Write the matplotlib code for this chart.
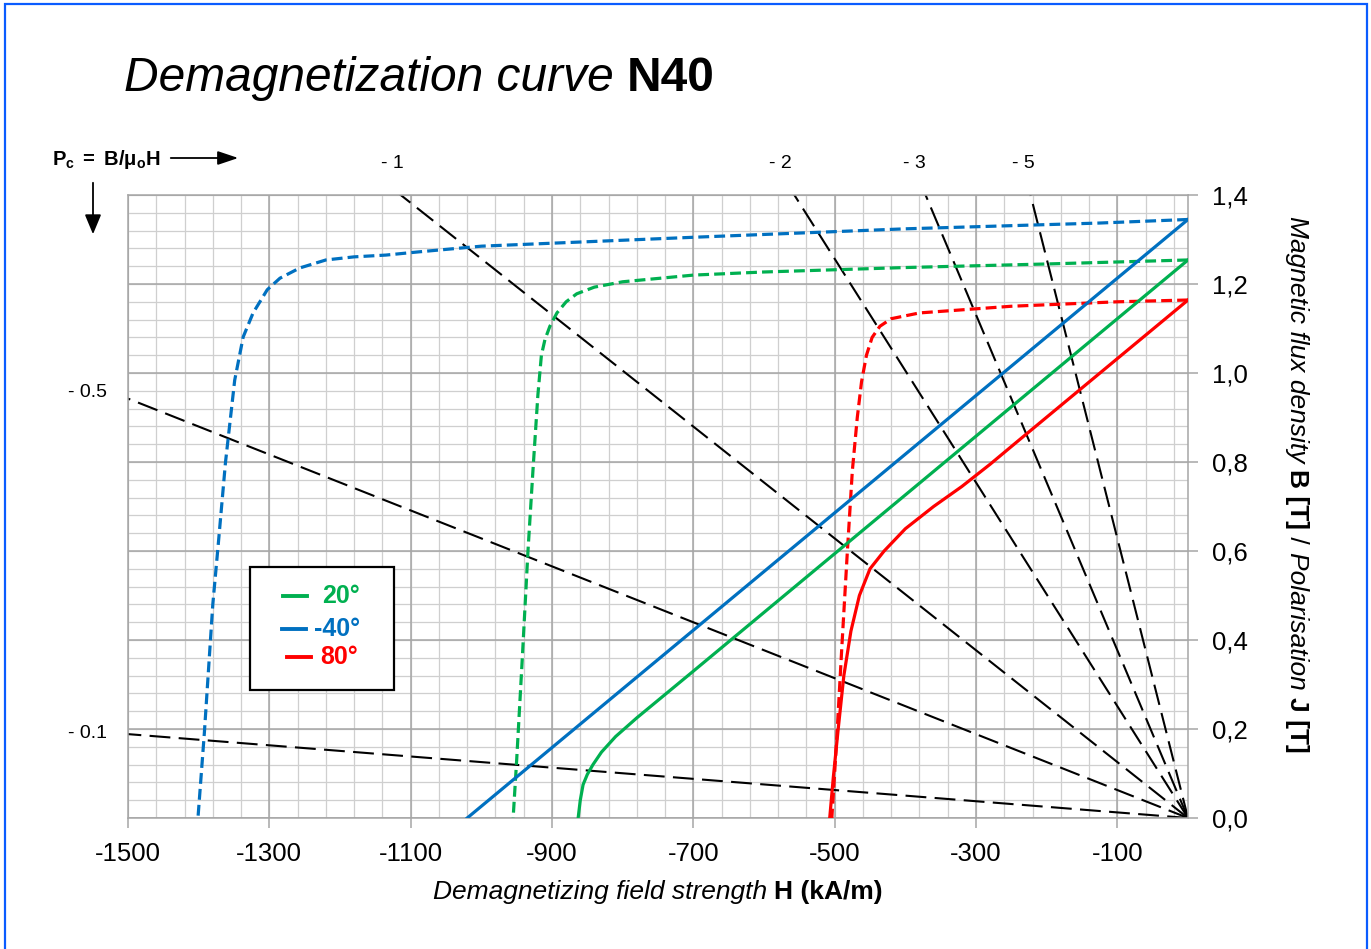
import numpy as np
import matplotlib
matplotlib.use("Agg")
import matplotlib.pyplot as plt
from matplotlib.patches import Rectangle, FancyArrowPatch
from matplotlib.lines import Line2D
from matplotlib.ticker import FixedLocator, FuncFormatter

plt.rcParams['font.family'] = ['Liberation Sans', 'DejaVu Sans']
plt.rcParams['mathtext.fontset'] = 'custom'
plt.rcParams['mathtext.rm'] = 'Liberation Sans'
plt.rcParams['mathtext.bf'] = 'Liberation Sans:bold'
plt.rcParams['mathtext.it'] = 'Liberation Sans:italic'
plt.rcParams['axes.unicode_minus'] = False

# ---------------- data ----------------
x_ticks = [-1500, -1300, -1100, -900, -700, -500, -300, -100]
y_ticks = [0.0, 0.2, 0.4, 0.6, 0.8, 1.0, 1.2, 1.4]

pc_values = [0.1, 0.5, 1, 2, 3, 5]
pc_top_labels = ["- 1", "- 2", "- 3", "- 5"]
pc_left_labels = ["- 0.5", "- 0.1"]

# 20 deg
green_J_H = [0, -200, -400, -600, -700, -800, -840, -865, -880, -893, -903, -910, -915, -920, -927, -934, -942, -950, -955]
green_J_B = [1.254, 1.245, 1.237, 1.227, 1.220, 1.205, 1.193, 1.178, 1.160, 1.135, 1.105, 1.075, 1.040, 0.950, 0.780, 0.600, 0.360, 0.130, 0.0]
green_B_H = [0, -700, -780, -810, -830, -842, -850, -856, -860, -863]
green_B_B = [1.254, 0.330, 0.225, 0.183, 0.148, 0.120, 0.098, 0.075, 0.040, 0.0]

# -40 deg
blue_J_H = [0, -125, -400, -700, -1000, -1090, -1135, -1180, -1220, -1257, -1285, -1303, -1323, -1337, -1349, -1362, -1372, -1380, -1392, -1401]
blue_J_B = [1.345, 1.337, 1.324, 1.305, 1.285, 1.272, 1.265, 1.261, 1.254, 1.236, 1.213, 1.187, 1.135, 1.081, 0.984, 0.800, 0.620, 0.480, 0.190, 0.0]
blue_B_H = [0, -1020]
blue_B_B = [1.345, 0.0]

# 80 deg
red_J_H = [0, -100, -250, -380, -420, -436, -447, -455, -462, -468, -475, -482, -490, -497, -504]
red_J_B = [1.164, 1.160, 1.150, 1.135, 1.122, 1.105, 1.080, 1.040, 0.980, 0.900, 0.780, 0.600, 0.380, 0.180, 0.0]
red_B_H = [0, -240, -280, -320, -360, -400, -430, -450, -465, -477, -487, -495, -502, -507]
red_B_B = [1.164, 0.848, 0.795, 0.745, 0.700, 0.650, 0.600, 0.560, 0.500, 0.420, 0.320, 0.200, 0.090, 0.0]

legend_labels = ["20°", "-40°", "80°"]

GREEN = '#00b050'
BLUE = '#0070c0'
RED = '#ff0000'

W, H = 1371, 949
fig = plt.figure(figsize=(W / 100, H / 100), dpi=100)

def fx(px):
    return px / W

def fy(py):
    return 1 - py / H

ax = fig.add_axes([fx(128), fy(818), fx(1188) - fx(128), fy(195) - fy(818)])
ax.set_xlim(-1500, 0)
ax.set_ylim(0, 1.4)

# grid
minor_x = np.arange(-1500, 1, 40)
minor_y = np.arange(0, 1.4001, 0.04)
for v in minor_x:
    ax.axvline(v, color='#cfcfcf', lw=0.9, zorder=0)
for v in minor_y:
    ax.axhline(v, color='#cfcfcf', lw=0.9, zorder=0)
for v in x_ticks:
    ax.axvline(v, color='#a6a6a6', lw=1.1, zorder=0.5)
for v in y_ticks:
    ax.axhline(v, color='#a6a6a6', lw=1.1, zorder=0.5)

for s in ax.spines.values():
    s.set_color('#a6a6a6')
    s.set_linewidth(1.1)

ax.xaxis.set_major_locator(FixedLocator(x_ticks))
ax.yaxis.set_major_locator(FixedLocator(y_ticks))
ax.yaxis.tick_right()
ax.xaxis.set_major_formatter(FuncFormatter(lambda v, p: f"{int(v)}"))
ax.yaxis.set_major_formatter(FuncFormatter(lambda v, p: f"{v:.1f}".replace('.', ',')))
ax.tick_params(axis='x', direction='out', length=7, width=1.1, color='#a6a6a6', labelsize=18.5, pad=10)
ax.tick_params(axis='y', direction='out', length=7, width=1.1, color='#a6a6a6', labelsize=18.5, pad=10,
               left=False, right=True)

# load lines
mu0 = 4 * np.pi * 1e-7
Hl = np.array([0, -1500.0])
for pc in pc_values:
    ax.plot(Hl, -pc * mu0 * Hl * 1000, color='black', lw=1.5, dashes=(10, 4), zorder=2)

# curves
lw = 2.3
dsh = (3.4, 1.6)
ax.plot(green_J_H, green_J_B, color=GREEN, lw=lw, dashes=dsh, zorder=3)
ax.plot(blue_J_H, blue_J_B, color=BLUE, lw=lw, dashes=dsh, zorder=3)
ax.plot(red_J_H, red_J_B, color=RED, lw=lw, dashes=dsh, zorder=3)
ax.plot(green_B_H, green_B_B, color=GREEN, lw=lw, zorder=3)
ax.plot(blue_B_H, blue_B_B, color=BLUE, lw=lw, zorder=3)
ax.plot(red_B_H, red_B_B, color=RED, lw=lw, zorder=3)

# ---------------- texts ----------------
fig.canvas.draw()
renderer = fig.canvas.get_renderer()

def seq_h(pieces, x0, y0, size):
    x = x0
    for txt, style, weight, color in pieces:
        t = fig.text(fx(x), fy(y0), txt, fontsize=size, style=style, weight=weight,
                     color=color, ha='left', va='baseline')
        bb = t.get_window_extent(renderer)
        x += bb.width

def width_of(txt, size, style, weight):
    t = fig.text(0, 0, txt, fontsize=size, style=style, weight=weight)
    w = t.get_window_extent(renderer).width
    t.remove()
    return w

# title
seq_h([("Demagnetization curve ", 'italic', 'normal', 'black'),
       ("N40", 'normal', 'bold', 'black')], 124, 91, 34.5)

# x label, centered at 658
xl_pieces = [("Demagnetizing field strength ", 'italic', 'normal', 'black'),
             ("H (kA/m)", 'normal', 'bold', 'black')]
xl_size = 19
total = sum(width_of(p[0], xl_size, p[1], p[2]) for p in xl_pieces)
seq_h(xl_pieces, 658 - total / 2, 899, xl_size)

# right label, rotated (reads top to bottom)
yl_pieces = [("Magnetic flux density ", 'italic', 'normal'),
             ("B [T]", 'normal', 'bold'),
             (" / ", 'normal', 'normal'),
             ("Polarisation ", 'italic', 'normal'),
             ("J [T]", 'normal', 'bold')]
yl_size = 19
widths = [width_of(p[0], yl_size, p[1], p[2]) for p in yl_pieces]
total = sum(widths)
yc = 484
ypos = yc - total / 2
for (txt, style, weight), w in zip(yl_pieces, widths):
    fig.text(fx(1290), fy(ypos), txt, fontsize=yl_size, style=style, weight=weight,
             rotation=-90, rotation_mode='anchor', ha='left', va='baseline')
    ypos += w

# Pc labels
for lab, xp in zip(pc_top_labels, [392, 780, 914, 1023]):
    fig.text(fx(xp), fy(164), lab, fontsize=14, ha='center', va='center')
for lab, yp in zip(pc_left_labels, [392, 734]):
    fig.text(fx(107), fy(yp), lab, fontsize=14, ha='right', va='center')

fig.text(fx(52), fy(165), r'$\mathbf{P_c\ =\ B/μ_oH}$', fontsize=14.5, ha='left', va='baseline')

arr1 = FancyArrowPatch((fx(168), fy(158)), (fx(241), fy(158)), transform=fig.transFigure,
                       arrowstyle='-|>,head_length=1.25,head_width=0.42', mutation_scale=10,
                       color='black', lw=1.3)
arr2 = FancyArrowPatch((fx(93), fy(180)), (fx(93), fy(237)), transform=fig.transFigure,
                       arrowstyle='-|>,head_length=1.2,head_width=0.5', mutation_scale=10,
                       color='black', lw=1.3)
fig.add_artist(arr1)
fig.add_artist(arr2)

# legend box
fig.add_artist(Rectangle((fx(250), fy(690)), fx(394) - fx(250), fy(567) - fy(690),
                         transform=fig.transFigure, facecolor='white', edgecolor='black',
                         lw=1.6, zorder=5))
leg = [(GREEN, 596, 283, 307, 322), (BLUE, 629, 282, 306, 314), (RED, 657, 287, 311, 320)]
for (c, yp, x1, x2, xt), lab in zip(leg, legend_labels):
    fig.add_artist(Line2D([fx(x1), fx(x2)], [fy(yp), fy(yp)], transform=fig.transFigure,
                          color=c, lw=2.8, zorder=6))
    fig.text(fx(xt), fy(yp), lab, fontsize=18, weight='bold', color=c, ha='left',
             va='center', zorder=6)

# figure border
fig.add_artist(Rectangle((fx(5), -0.05), fx(1367) - fx(5), fy(4) + 0.05, transform=fig.transFigure,
                         facecolor='none', edgecolor='#0a5cff', lw=1.6))

fig.savefig('out.png', dpi=100)
